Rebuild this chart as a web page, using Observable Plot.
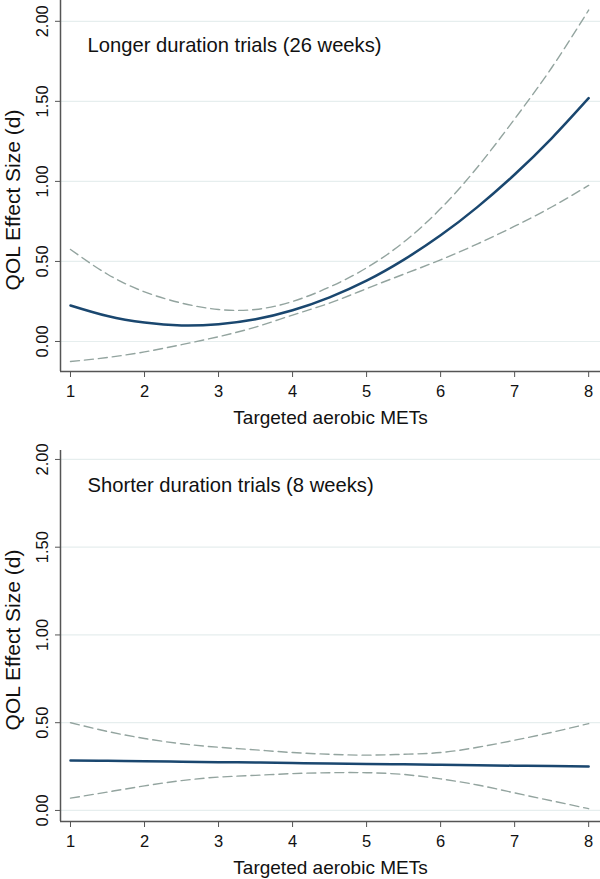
<!DOCTYPE html>
<html>
<head>
<meta charset="utf-8">
<script src="https://cdn.jsdelivr.net/npm/d3@7"></script>
<script src="https://cdn.jsdelivr.net/npm/@observablehq/plot@0.6"></script>
<style>
  html, body { margin: 0; padding: 0; background: #ffffff; }
  #chart svg { display: block; }
</style>
</head>
<body>
<div id="chart"></div>
<script>
// ---- data ----
const xTicks = [1, 2, 3, 4, 5, 6, 7, 8];
const yTicks = [0, 0.5, 1, 1.5, 2];
const xTitle = "Targeted aerobic METs";
const yTitle = "QOL Effect Size (d)";

const longLabel = "Longer duration trials (26 weeks)";
const longMets  = [1, 1.5, 2, 2.5, 3, 3.5, 4, 4.5, 5, 5.5, 6, 6.5, 7, 7.5, 8];
const longFit   = [0.225, 0.159, 0.118, 0.100, 0.108, 0.139, 0.195, 0.276, 0.380, 0.510, 0.663, 0.841, 1.043, 1.269, 1.52];
const longUpper = [0.575, 0.42, 0.31, 0.24, 0.20, 0.20, 0.25, 0.34, 0.46, 0.62, 0.83, 1.09, 1.39, 1.71, 2.07];
const longLower = [-0.125, -0.10, -0.065, -0.02, 0.03, 0.09, 0.165, 0.24, 0.33, 0.42, 0.51, 0.61, 0.72, 0.84, 0.975];

const shortLabel = "Shorter duration trials (8 weeks)";
const shortMets  = [1, 1.5, 2, 2.5, 3, 3.5, 4, 4.5, 5, 5.5, 6, 6.5, 7, 7.5, 8];
const shortFit   = [0.285, 0.283, 0.28, 0.278, 0.275, 0.273, 0.27, 0.268, 0.265, 0.263, 0.26, 0.258, 0.255, 0.253, 0.25];
const shortUpper = [0.50, 0.45, 0.41, 0.38, 0.36, 0.345, 0.33, 0.32, 0.315, 0.32, 0.33, 0.36, 0.40, 0.445, 0.495];
const shortLower = [0.07, 0.105, 0.14, 0.17, 0.19, 0.20, 0.21, 0.215, 0.215, 0.205, 0.18, 0.145, 0.10, 0.055, 0.01];

// ---- styling ----
const FONT = "'Liberation Sans', Arial, Helvetica, sans-serif";
const NAVY = "#1a476f";
const CI = "#93a49f";
const GRID = "#e6eeee";
const AXIS = "#555555";

function panel({mets, fit, upper, lower, label, yDomain, height, marginTop, marginBottom, labelDy, titleDy}) {
  const xDomain = [0.865, 8.16];
  const rows = mets.map((m, i) => ({m, fit: fit[i], up: upper[i], lo: lower[i]}));
  return Plot.plot({
    width: 600,
    height,
    marginLeft: 60,
    marginRight: 0,
    marginTop,
    marginBottom,
    x: {domain: xDomain},
    y: {domain: yDomain},
    style: {fontFamily: FONT, fontSize: "16.5px", color: "#111", background: "#ffffff", overflow: "visible"},
    marks: [
      Plot.gridY(yTicks, {stroke: GRID, strokeOpacity: 1, strokeWidth: 1.2}),
      Plot.ruleX([xDomain[0]], {stroke: AXIS, strokeWidth: 1.5}),
      Plot.ruleY([yDomain[0]], {stroke: AXIS, strokeWidth: 1.5}),
      Plot.axisX(xTicks, {tickSize: 6, tickPadding: 8, stroke: AXIS, fill: "#111", fontSize: 16.5, label: null}),
      Plot.axisY(yTicks, {tickSize: 5, stroke: AXIS, tickFormat: () => "", label: null}),
      Plot.text(yTicks, {y: d => d, frameAnchor: "left", dx: -18, rotate: -90, text: d => d.toFixed(2),
        fontSize: 16.5, fill: "#111", textAnchor: "middle", lineAnchor: "middle"}),
      Plot.line(rows, {x: "m", y: "up", curve: "natural", stroke: CI, strokeWidth: 1.4, strokeDasharray: "9,5"}),
      Plot.line(rows, {x: "m", y: "lo", curve: "natural", stroke: CI, strokeWidth: 1.4, strokeDasharray: "9,5"}),
      Plot.line(rows, {x: "m", y: "fit", curve: "natural", stroke: NAVY, strokeWidth: 2.5}),
      Plot.text([label], {frameAnchor: "top-left", dx: 27, dy: labelDy, textAnchor: "start", lineAnchor: "middle",
        fontSize: 20.2, fill: "#111"}),
      Plot.text([xTitle], {frameAnchor: "bottom", dy: 46, textAnchor: "middle", lineAnchor: "middle", fontSize: 19, fill: "#111"}),
      Plot.text([yTitle], {frameAnchor: "left", dx: -47, dy: titleDy, rotate: -90, textAnchor: "middle", lineAnchor: "middle",
        fontSize: 21, fill: "#111"})
    ]
  });
}

const topPanel = panel({
  mets: longMets, fit: longFit, upper: longUpper, lower: longLower, label: longLabel,
  yDomain: [-0.1875, 2.13], height: 440, marginTop: 0, marginBottom: 69, labelDy: 45, titleDy: 14
});
const bottomPanel = panel({
  mets: shortMets, fit: shortFit, upper: shortUpper, lower: shortLower, label: shortLabel,
  yDomain: [-0.063, 2.051], height: 439, marginTop: 10, marginBottom: 58, labelDy: 35, titleDy: 4
});
const chart = document.getElementById("chart");
chart.appendChild(topPanel);
chart.appendChild(bottomPanel);
</script>
</body>
</html>
